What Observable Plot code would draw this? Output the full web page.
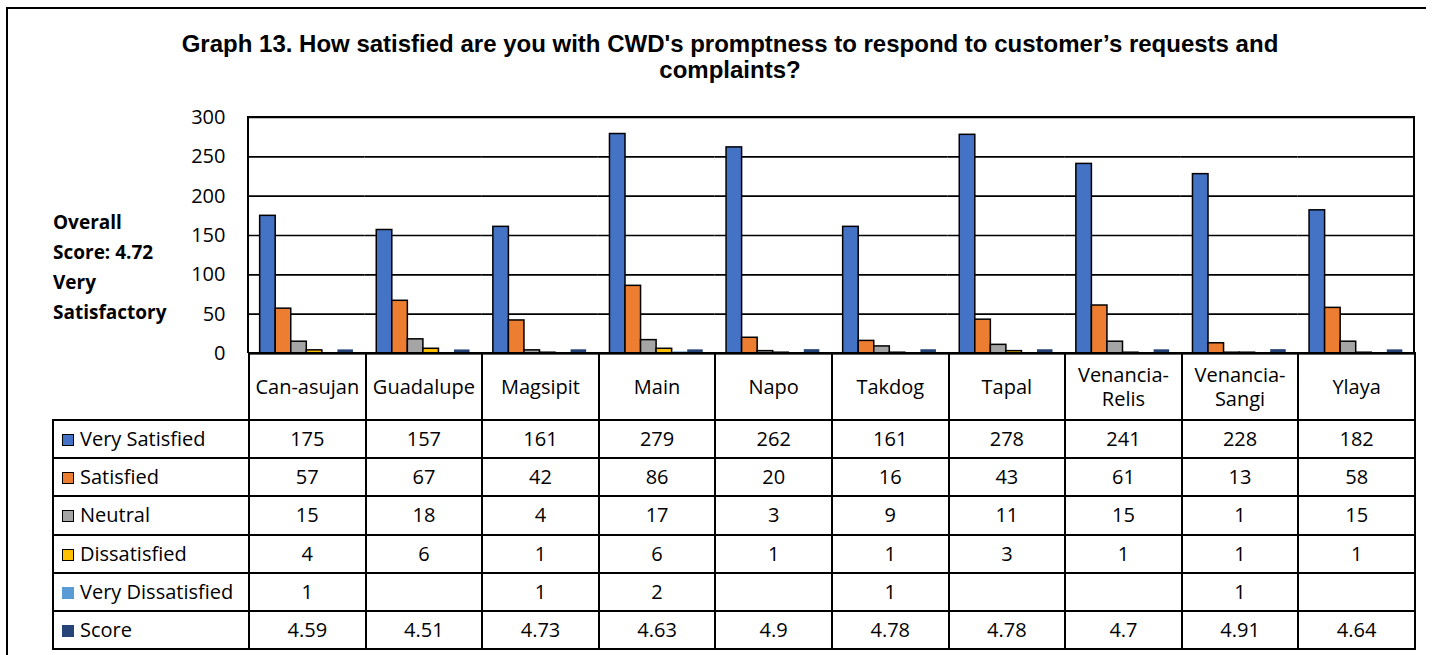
<!DOCTYPE html>
<html>
<head>
<meta charset="utf-8">
<script src="https://cdn.jsdelivr.net/npm/d3@7"></script>
<script src="https://cdn.jsdelivr.net/npm/@observablehq/plot@0.6"></script>
<style>
  html, body { margin: 0; padding: 0; background: #fff; width: 1434px; height: 655px; overflow: hidden; }
  #wrap { position: relative; width: 1434px; height: 655px; overflow: hidden; font-family: "Open Sans", sans-serif; color: #000; }
  #outer { position: absolute; left: 6px; top: 7px; width: 1420px; height: 660px; border-left: 2px solid #000; border-top: 2px solid #000; border-right: none; border-bottom: none; box-sizing: border-box; }
  #title { position: absolute; left: 20px; top: 30.5px; width: 1420px; text-align: center; font: bold 24px/26px "Liberation Sans", Arial, sans-serif; white-space: nowrap; }
  #side { position: absolute; left: 53px; top: 207px; font: bold 19px/30px "Open Sans", sans-serif; }
  #chart { position: absolute; left: 0; top: 90px; }
  #frame { position: absolute; border: 2px solid #000; border-bottom: none; box-sizing: border-box; pointer-events: none; }
  table { position: absolute; border-collapse: collapse; table-layout: fixed; font: 20px/24px "Open Sans", sans-serif; }
  td { border: 2px solid #000; text-align: center; padding: 0; }
  td.blank { border: none; }
  td.leg { text-align: left; padding-left: 8px; white-space: nowrap; }
  .key { display: inline-block; width: 12px; height: 12px; margin-right: 6px; box-sizing: border-box; vertical-align: 0px; }
</style>
</head>
<body>
<div id="wrap">
  <div id="outer"></div>
  <div id="title">Graph 13. How satisfied are you with CWD's promptness to respond to customer’s requests and<br>complaints?</div>
  <div id="side">Overall<br>Score: 4.72<br>Very<br>Satisfactory</div>
  <div id="chart"></div>
</div>
<script>
const categories = ["Can-asujan", "Guadalupe", "Magsipit", "Main", "Napo", "Takdog", "Tapal", "Venancia-Relis", "Venancia-Sangi", "Ylaya"];
const seriesNames = ["Very Satisfied", "Satisfied", "Neutral", "Dissatisfied", "Very Dissatisfied", "Score"];
const verySatisfied = [175, 157, 161, 279, 262, 161, 278, 241, 228, 182];
const satisfied = [57, 67, 42, 86, 20, 16, 43, 61, 13, 58];
const neutral = [15, 18, 4, 17, 3, 9, 11, 15, 1, 15];
const dissatisfied = [4, 6, 1, 6, 1, 1, 3, 1, 1, 1];
const veryDissatisfied = [1, null, 1, 2, null, 1, null, null, 1, null];
const score = [4.59, 4.51, 4.73, 4.63, 4.9, 4.78, 4.78, 4.7, 4.91, 4.64];
const seriesColors = ["#4472C4", "#ED7D31", "#A5A5A5", "#FFC000", "#5B9BD5", "#264478"];
const outlinedSeries = ["Very Satisfied", "Satisfied", "Neutral", "Dissatisfied"];
const yTicks = [0, 50, 100, 150, 200, 250, 300];

const seriesValues = [verySatisfied, satisfied, neutral, dissatisfied, veryDissatisfied, score];
const rows = [];
categories.forEach((c, i) => {
  seriesNames.forEach((s, j) => {
    const v = seriesValues[j][i];
    if (v != null) rows.push({cat: c, series: s, value: v});
  });
});

const W = 1434, svgTop = 90, H = 266;
const mT = 27, mB = 3, mL = 248, mR = 20;

const chart = Plot.plot({
  width: W, height: H,
  marginTop: mT, marginBottom: mB, marginLeft: mL, marginRight: mR,
  style: {fontFamily: '"Open Sans", sans-serif', fontSize: "20px", color: "#000", background: "transparent", overflow: "visible"},
  facet: {data: rows, x: "cat"},
  fx: {domain: categories, padding: 0, round: false, axis: null, label: null},
  x: {domain: seriesNames, paddingInner: 0, paddingOuter: 0.75, round: false, axis: null, label: null},
  y: {domain: [0, 300], ticks: yTicks, tickSize: 0, tickPadding: 23, label: null},
  color: {domain: seriesNames, range: seriesColors},
  marks: [
    Plot.ruleY(yTicks, {stroke: "#000", strokeWidth: 1.6}),
    Plot.barY(rows, {filter: d => outlinedSeries.includes(d.series), x: "series", y: "value", fill: "series", stroke: "#000", strokeWidth: 1.5}),
    Plot.barY(rows, {filter: d => !outlinedSeries.includes(d.series), x: "series", y: "value", fill: "series"}),
    Plot.ruleY([0], {stroke: "#000", strokeWidth: 2})
  ]
});
document.getElementById("chart").appendChild(chart);

// plot-area frame from the fx scale range
const fxScale = chart.scale("fx");
const r0 = Math.min(...fxScale.range), r1 = Math.max(...fxScale.range);
const frame = document.createElement("div");
frame.id = "frame";
frame.style.left = (r0 - 1) + "px";
frame.style.top = (svgTop + mT - 1) + "px";
frame.style.width = (r1 - r0 + 2) + "px";
frame.style.height = (H - mT - mB + 1) + "px";
document.getElementById("wrap").appendChild(frame);

// data table
const legendLeft = 52;
const colW = (r1 - r0) / categories.length;
const table = document.createElement("table");
table.style.left = legendLeft + "px";
table.style.top = (svgTop + H - mB - 1) + "px";
table.style.width = (r1 - legendLeft) + "px";
const cg = document.createElement("colgroup");
const c0 = document.createElement("col"); c0.style.width = (r0 - legendLeft) + "px"; cg.appendChild(c0);
categories.forEach(() => { const c = document.createElement("col"); c.style.width = colW + "px"; cg.appendChild(c); });
table.appendChild(cg);
const head = document.createElement("tr");
head.style.height = "67px";
const blank = document.createElement("td"); blank.className = "blank"; head.appendChild(blank);
categories.forEach(c => { const td = document.createElement("td"); td.textContent = c; head.appendChild(td); });
table.appendChild(head);
seriesNames.forEach((s, j) => {
  const tr = document.createElement("tr");
  tr.style.height = "38.2px";
  const leg = document.createElement("td"); leg.className = "leg";
  const key = document.createElement("span"); key.className = "key";
  key.style.background = seriesColors[j];
  if (outlinedSeries.includes(s)) key.style.border = "1.5px solid #000";
  leg.appendChild(key);
  leg.appendChild(document.createTextNode(s));
  tr.appendChild(leg);
  categories.forEach((c, i) => {
    const td = document.createElement("td");
    const v = seriesValues[j][i];
    td.textContent = v == null ? "" : String(v);
    tr.appendChild(td);
  });
  table.appendChild(tr);
});
document.getElementById("wrap").appendChild(table);
</script>
</body>
</html>
